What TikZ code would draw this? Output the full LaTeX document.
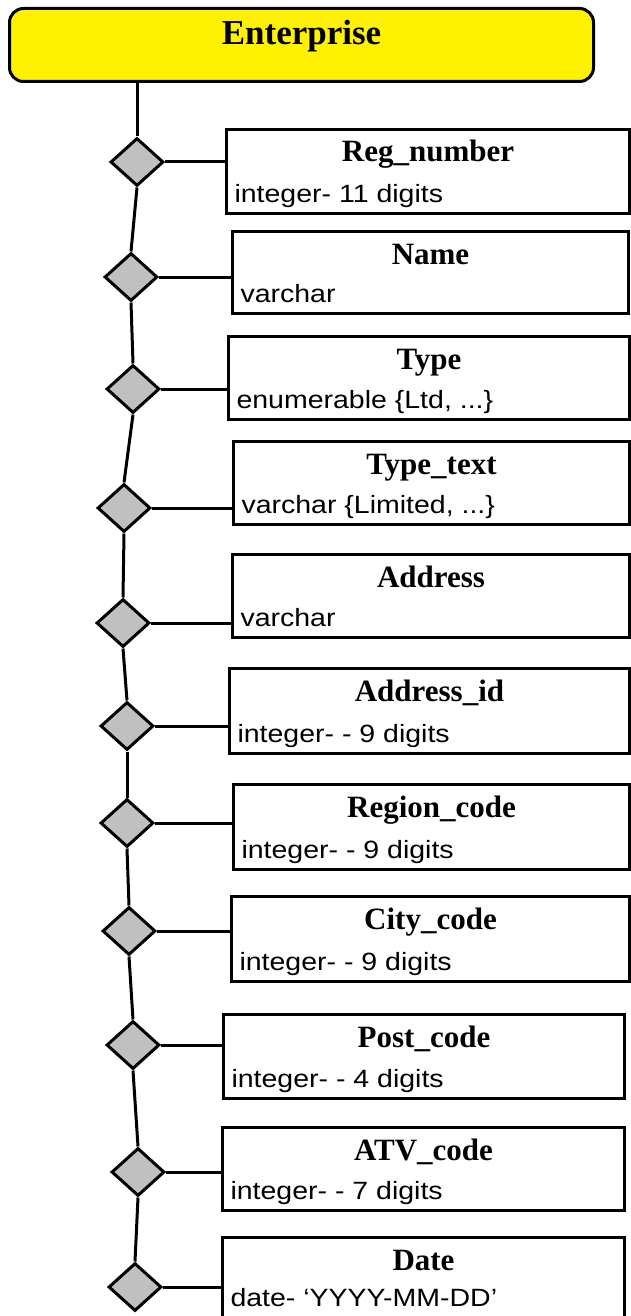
\documentclass[tikz,border=0pt]{standalone}
\usepackage{fontspec}
\setmainfont{Liberation Serif}
\newfontfamily\typefont{Liberation Sans}[FakeStretch=1.14]
\usetikzlibrary{shapes.geometric}
\definecolor{diagray}{RGB}{192,192,192}
\begin{document}
\begin{tikzpicture}[x=1pt,y=-1pt,line width=3pt,
    entbox/.style={draw,fill=yellow,rounded corners=14pt,minimum width=584pt,minimum height=73pt,inner sep=0pt,anchor=north west},
    enttitle/.style={font=\fontsize{35}{37}\selectfont\bfseries,inner sep=0pt,anchor=base},
    attbox/.style={draw,fill=white,inner sep=0pt,anchor=north west},
    atttitle/.style={font=\fontsize{31}{33}\selectfont\bfseries,inner sep=0pt,anchor=base},
    atttype/.style={font=\typefont\fontsize{25}{27}\selectfont,inner sep=0pt,anchor=base west},
    dia/.style={diamond,draw,fill=diagray,minimum width=53pt,minimum height=48pt,inner sep=0pt}]
    \useasboundingbox (0,0) rectangle (630,1316);
    % entity
    \node[entbox] (ent) at (8,7) {};
    \node[enttitle] (entT) at ([yshift=-38pt]ent.north) {Enterprise};
    % attribute boxes
    \node[attbox,minimum width=403pt,minimum height=84pt] (reg) at (225,128) {};
    \node[atttitle] (regT) at ([yshift=-34pt]reg.north) {Reg\_number};
    \node[atttype] (regS) at ([xshift=8pt,yshift=13pt]reg.south west) {integer- 11 digits};
    \node[attbox,minimum width=396pt,minimum height=82pt] (name) at (231,230) {};
    \node[atttitle] (nameT) at ([yshift=-34pt]name.north) {Name};
    \node[atttype] (nameS) at ([xshift=8pt,yshift=13pt]name.south west) {varchar};
    \node[attbox,minimum width=401pt,minimum height=83pt] (type) at (227,335) {};
    \node[atttitle] (typeT) at ([yshift=-34pt]type.north) {Type};
    \node[atttype] (typeS) at ([xshift=8pt,yshift=13pt]type.south west) {enumerable {\{}Ltd, ...{\}}};
    \node[attbox,minimum width=396pt,minimum height=83pt] (ttext) at (232,440) {};
    \node[atttitle] (ttextT) at ([yshift=-34pt]ttext.north) {Type\_text};
    \node[atttype] (ttextS) at ([xshift=8pt,yshift=13pt]ttext.south west) {varchar {\{}Limited, ...{\}}};
    \node[attbox,minimum width=397pt,minimum height=83pt] (addr) at (231,553) {};
    \node[atttitle] (addrT) at ([yshift=-34pt]addr.north) {Address};
    \node[atttype] (addrS) at ([xshift=8pt,yshift=13pt]addr.south west) {varchar};
    \node[attbox,minimum width=400pt,minimum height=85pt] (addrid) at (228,667) {};
    \node[atttitle] (addridT) at ([yshift=-34pt]addrid.north) {Address\_id};
    \node[atttype] (addridS) at ([xshift=8pt,yshift=13pt]addrid.south west) {integer- - 9 digits};
    \node[attbox,minimum width=396pt,minimum height=85pt] (region) at (232,783) {};
    \node[atttitle] (regionT) at ([yshift=-34pt]region.north) {Region\_code};
    \node[atttype] (regionS) at ([xshift=8pt,yshift=13pt]region.south west) {integer- - 9 digits};
    \node[attbox,minimum width=398pt,minimum height=85pt] (city) at (230,895) {};
    \node[atttitle] (cityT) at ([yshift=-34pt]city.north) {City\_code};
    \node[atttype] (cityS) at ([xshift=8pt,yshift=13pt]city.south west) {integer- - 9 digits};
    \node[attbox,minimum width=401pt,minimum height=84pt] (post) at (222,1013) {};
    \node[atttitle] (postT) at ([yshift=-34pt]post.north) {Post\_code};
    \node[atttype] (postS) at ([xshift=8pt,yshift=13pt]post.south west) {integer- - 4 digits};
    \node[attbox,minimum width=402pt,minimum height=83pt] (atv) at (221,1126) {};
    \node[atttitle] (atvT) at ([yshift=-34pt]atv.north) {ATV\_code};
    \node[atttype] (atvS) at ([xshift=8pt,yshift=13pt]atv.south west) {integer- - 7 digits};
    \node[attbox,minimum width=402pt,minimum height=94pt] (date) at (221,1236) {};
    \node[atttitle] (dateT) at ([yshift=-34pt]date.north) {Date};
    \node[atttype] (dateS) at ([xshift=8pt,yshift=-70pt]date.north west) {date- ‘YYYY-MM-DD’};
    % diamonds
    \node[dia] (regD) at (137,162) {};
    \node[dia] (nameD) at (131,277) {};
    \node[dia] (typeD) at (133,389) {};
    \node[dia] (ttextD) at (124,508) {};
    \node[dia] (addrD) at (123,623) {};
    \node[dia] (addridD) at (127,726) {};
    \node[dia] (regionD) at (127,823) {};
    \node[dia] (cityD) at (129,931) {};
    \node[dia] (postD) at (133,1045) {};
    \node[dia] (atvD) at (138,1172) {};
    \node[dia] (dateD) at (135,1287) {};
    % spine
    \draw (regD.north |- ent.south) -- (regD.north);
    \draw (regD.south) -- (nameD.north);
    \draw (nameD.south) -- (typeD.north);
    \draw (typeD.south) -- (ttextD.north);
    \draw (ttextD.south) -- (addrD.north);
    \draw (addrD.south) -- (addridD.north);
    \draw (addridD.south) -- (regionD.north);
    \draw (regionD.south) -- (cityD.north);
    \draw (cityD.south) -- (postD.north);
    \draw (postD.south) -- (atvD.north);
    \draw (atvD.south) -- (dateD.north);
    % links to boxes
    \draw (regD.east) -- (regD.east -| reg.west);
    \draw (nameD.east) -- (nameD.east -| name.west);
    \draw (typeD.east) -- (typeD.east -| type.west);
    \draw (ttextD.east) -- (ttextD.east -| ttext.west);
    \draw (addrD.east) -- (addrD.east -| addr.west);
    \draw (addridD.east) -- (addridD.east -| addrid.west);
    \draw (regionD.east) -- (regionD.east -| region.west);
    \draw (cityD.east) -- (cityD.east -| city.west);
    \draw (postD.east) -- (postD.east -| post.west);
    \draw (atvD.east) -- (atvD.east -| atv.west);
    \draw (dateD.east) -- (dateD.east -| date.west);
\end{tikzpicture}
\end{document}
